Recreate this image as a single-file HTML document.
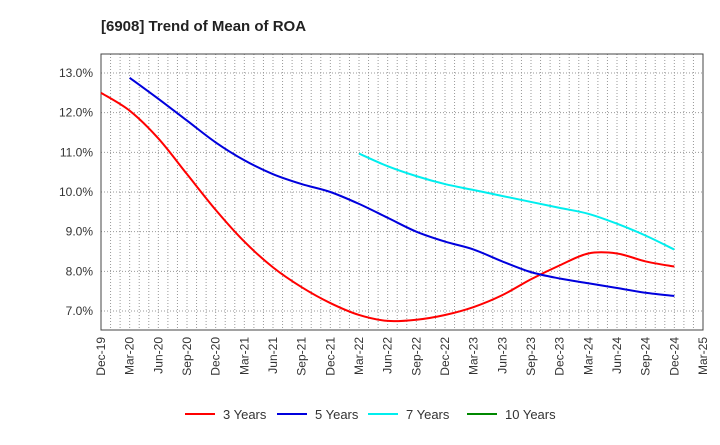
<!DOCTYPE html>
<html><head><meta charset="utf-8"><style>
body{margin:0;background:#fff;font-family:"Liberation Sans",sans-serif;}
svg text{font-family:"Liberation Sans",sans-serif;}
</style></head><body>
<svg id="c" width="720" height="440" xmlns="http://www.w3.org/2000/svg">
<text x="101" y="31" font-size="15" font-weight="bold" fill="#222">[6908]  Trend of Mean of ROA</text>
<g id="grid"></g><g id="axes"></g><g id="series"></g><g id="legend"></g>
</svg>
<script>
const xLabels=["Dec-19","Mar-20","Jun-20","Sep-20","Dec-20","Mar-21","Jun-21","Sep-21","Dec-21","Mar-22","Jun-22","Sep-22","Dec-22","Mar-23","Jun-23","Sep-23","Dec-23","Mar-24","Jun-24","Sep-24","Dec-24","Mar-25"];
const yTicks=[7,8,9,10,11,12,13];
const seriesNames=["3 Years","5 Years","7 Years","10 Years"];
const seriesColors=["#ff0000","#0000dd","#00eeee","#008800"];
const s3=[12.5,12.05,11.35,10.45,9.55,8.75,8.1,7.6,7.2,6.9,6.75,6.78,6.9,7.1,7.4,7.8,8.15,8.45,8.45,8.25,8.12];
const s5=[null,12.88,12.35,11.8,11.25,10.8,10.45,10.2,10.0,9.7,9.35,9.0,8.75,8.55,8.25,7.98,7.82,7.7,7.58,7.46,7.38];
const s7=[null,null,null,null,null,null,null,null,null,10.97,10.65,10.4,10.2,10.05,9.9,9.75,9.6,9.45,9.2,8.9,8.55];
const s10=[];
const L=101,R=703,T=54,B=330;
const X=i=>L+i*(R-L)/(xLabels.length-1);
const Y=v=>311-(v-7)*(311-73)/6;
const NS="http://www.w3.org/2000/svg";
function mk(t,a,p){const e=document.createElementNS(NS,t);for(const k in a)e.setAttribute(k,a[k]);p.appendChild(e);return e;}
const grid=document.getElementById('grid'),axes=document.getElementById('axes'),ser=document.getElementById('series'),leg=document.getElementById('legend');
for(let m=1;m<(xLabels.length-1)*3;m++){const x=L+m*(R-L)/((xLabels.length-1)*3);
const g=mk('line',{x1:x,x2:x,y1:T,y2:B,stroke:'#999','stroke-dasharray':'1,2','stroke-width':1},grid);

}
yTicks.forEach(v=>{const y=Y(v);
const g=mk('line',{x1:L,x2:R,y1:y,y2:y,stroke:'#999','stroke-dasharray':'1,2'},grid);


const t=mk('text',{x:L-8,y:y+4,'font-size':12,'text-anchor':'end',fill:'#333'},axes);t.textContent=v.toFixed(1)+'%';

});
const fr=mk('rect',{x:L,y:T,width:R-L,height:B-T,fill:'none',stroke:'#444'},axes);


xLabels.forEach((l,i)=>{const x=X(i);
const t=mk('text',{x:0,y:0,'font-size':12,'text-anchor':'end',fill:'#333',transform:`translate(${x+4},${B+7}) rotate(-90)`},axes);t.textContent=l;

});
function path(arr){const p=[];arr.forEach((v,i)=>{if(v!=null)p.push([X(i),Y(v)]);});if(p.length<2)return '';
let d=`M${p[0][0]},${p[0][1]}`;
for(let i=0;i<p.length-1;i++){const p0=p[Math.max(0,i-1)],p1=p[i],p2=p[i+1],p3=p[Math.min(p.length-1,i+2)];
d+=` C${p1[0]+(p2[0]-p0[0])/6},${p1[1]+(p2[1]-p0[1])/6} ${p2[0]-(p3[0]-p1[0])/6},${p2[1]-(p3[1]-p1[1])/6} ${p2[0]},${p2[1]}`;}
return d;}
[s3,s5,s7,s10].forEach((s,k)=>{const d=path(s);if(!d)return;
const e=mk('path',{d,fill:'none',stroke:seriesColors[k],'stroke-width':2},ser);

});
const lx=[185,277,368,467];
seriesNames.forEach((n,k)=>{
const g=mk('g',{},leg);


mk('line',{x1:lx[k],x2:lx[k]+30,y1:414,y2:414,stroke:seriesColors[k],'stroke-width':2},g);
const t=mk('text',{x:lx[k]+38,y:419,'font-size':13,fill:'#333'},g);t.textContent=n;});
</script>
</body></html>
